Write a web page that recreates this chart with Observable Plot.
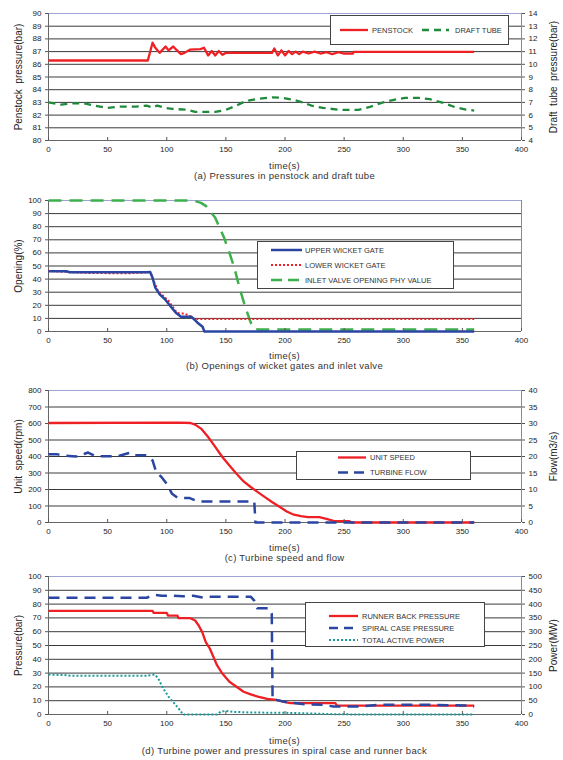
<!DOCTYPE html>
<html><head><meta charset="utf-8">
<script src="https://cdn.jsdelivr.net/npm/d3@7"></script>
<script src="https://cdn.jsdelivr.net/npm/@observablehq/plot@0.6"></script>
<style>
body{margin:0;background:#fff;font-family:"Liberation Sans",Arial,sans-serif;}
#root{position:relative;width:563px;height:760px;overflow:hidden;background:#fff;}
.panel{position:absolute;left:0;}
.cap{position:absolute;left:48px;width:473px;text-align:center;font-size:9.5px;line-height:10px;color:#333;white-space:pre;letter-spacing:0.3px;}
</style></head><body><div id="root"></div>
<script>
// ---------- data ----------
const timeTicks = [0, 50, 100, 150, 200, 250, 300, 350, 400];

// (a) pressures [time s, value]
const penstockTicks = [80, 81, 82, 83, 84, 85, 86, 87, 88, 89, 90];
const penstock = [[0,86.3],[84,86.3],[88,87.7],[90,87.35],[94,86.9],[99,87.4],[101.5,87.1],[105.5,87.4],[108,87.15],[112,86.8],[115,86.9],[119.5,87.15],[128.5,87.2],[131.5,87.3],[135,86.7],[138,87.05],[141,86.7],[144,87.05],[147,86.75],[150,86.9],[189,86.9],[191,87.25],[194,86.7],[197,87.1],[200,86.7],[203,87.05],[206,86.8],[209,87.0],[212,86.8],[215,87.0],[220,86.85],[225,87.0],[230,86.85],[235,86.95],[240,86.8],[245,86.95],[250,86.85],[257.5,86.85],[258,86.98],[360,86.98]];
const draftTube = [[0,7.0],[10.5,6.83],[21,6.93],[30,6.93],[39,6.75],[50,6.57],[60,6.67],[74,6.67],[83,6.75],[88,6.6],[92,6.75],[98.5,6.57],[104.5,6.49],[116.5,6.43],[124,6.25],[141,6.25],[150,6.41],[159,6.75],[166.5,7.1],[177,7.27],[189,7.4],[198.5,7.35],[207.5,7.19],[215,7.0],[222.5,6.75],[232,6.57],[247,6.41],[262,6.41],[271,6.62],[283,7.0],[292,7.2],[301.5,7.35],[313.5,7.35],[322.5,7.25],[335,6.93],[344,6.62],[353,6.43],[360,6.36]];
const draftTickOffset = 76; // right axis 4..14 against left 80..90

// (b) openings %
const openingTicks = [0, 10, 20, 30, 40, 50, 60, 70, 80, 90, 100];
const upperGate = [[0,46],[15,46],[18,45.2],[83,45.2],[86,45.4],[88,41],[90.3,33.5],[94,28.4],[98.5,24.6],[103,19.5],[107.5,14.5],[112,11.2],[121,11.2],[125.8,6.9],[130.3,3.6],[131.8,0],[360,0]];
const lowerGate = [[0,46.2],[20,45.2],[35,44.7],[65,44.4],[80,44.9],[86,45.4],[89,38.6],[92.5,31],[101.5,23.4],[107.5,15.7],[110.5,13.7],[115,13.7],[119.5,11.9],[122.5,9.9],[126,9.6],[360,9.6]];
const inletValve = [[0,100],[122.5,100],[129,98.2],[133.3,95.7],[141,86.8],[148.5,71.6],[153,60.2],[157.5,47.5],[161.5,33.5],[166.5,18.3],[171,6.9],[174,1.8],[178,1.5],[360,1.5]];

// (c) speed rpm / flow m3/s
const speedTicks = [0, 100, 200, 300, 400, 500, 600, 700, 800];
const flowPerRpm = 20; // right axis 0..40 against 0..800
const unitSpeed = [[0,603],[110,605],[120,603],[124,593],[129,569],[135,518],[141,458],[147,397],[153,346],[159,296],[165,249],[171,215],[177,184],[183,154],[189,124],[195,97],[201.5,67],[207.5,47],[213.5,38],[219.5,32],[229,32],[235,22],[241,10],[254.5,8],[256,0],[360,0]];
const turbineFlow = [[0,20.65],[7.5,20.65],[12,20.3],[20,20.1],[25.5,20.0],[30,20.75],[33.5,21.2],[39.5,20.1],[59,20.1],[66.5,20.9],[69.5,21.2],[72.5,20.4],[83,20.4],[88,18.8],[91,15.3],[95.5,13.8],[100,11.7],[104.5,8.7],[109,7.5],[119.5,7.4],[126,6.4],[174,6.4],[175,0],[360,0]];

// (d) pressures bar / power MW
const pressureTicks = [0, 10, 20, 30, 40, 50, 60, 70, 80, 90, 100];
const powerPerBar = 5; // right axis 0..500 against 0..100
const runnerBack = [[0,75.1],[88,75.1],[89,73.6],[100,73.6],[101,71.7],[109,71.7],[110,69.8],[119.5,69.8],[121,69.4],[124,68.1],[127,64.5],[130,59.7],[133,52.5],[136.5,47.7],[139.5,41.7],[142.5,35.7],[147,29.7],[153,23.7],[159,20.1],[165,16.5],[171,14.6],[177,13],[185,11.3],[192.5,10.6],[198.5,9.4],[204.5,8.2],[242.5,8.2],[244,6.4],[360,6.4]];
const spiralCase = [[0,84.6],[83,84.6],[89.5,86.7],[95.5,86.1],[104.5,86.1],[113.5,85.6],[122.5,86.1],[129,84.9],[135,85.4],[171,85.4],[174,82.5],[176.5,77],[186.5,77],[188.8,72.9],[189.5,10.6],[192.5,10.6],[201.5,8.9],[216.5,7.4],[232,7.0],[241,5.8],[262,5.8],[280,7.0],[322.5,7.0],[353,6.5],[360,5.8]];
const totalPower = [[0,145],[13.5,142.7],[19.5,140.3],[83,140.3],[89.5,145],[92.5,133],[97,94.7],[101.5,64.7],[107.5,34.8],[112,10.8],[113.5,0],[142.5,0],[145.5,9.6],[150,13.2],[156,9.6],[171,7.2],[201.5,6],[222.5,3.6],[241,1.2],[262,0],[360,0]];

// ---------- styles ----------
const RED = "#ee2024", DGREEN = "#1f8a3b", LGREEN = "#3cb04c", BLUE = "#2a45a2", TEAL = "#1b9a98";
const root = document.getElementById("root");

function makePanel(cfg) {
  const {top, mt, plotH, yDomain, yTicks, yLabel, rightFmt, rightLabel, lines} = cfg;
  const mb = 22;
  const marks = [
    Plot.gridY(yTicks.filter(v => v !== yDomain[0] && v !== yDomain[1]), {stroke: "#3a3a3a", strokeOpacity: 1, strokeWidth: 1}),
    Plot.ruleY([yDomain[1]], {stroke: "#9ea3d6", strokeWidth: 1.2}),
    Plot.ruleX([400], {stroke: "#8a8a8a"}),
    Plot.ruleX([0], {stroke: "#666"}),
    Plot.ruleY([yDomain[0]], {stroke: "#666"}),
    ...lines.map(s => Plot.line(s.data, {
      x: d => d[0], y: d => s.scale ? s.scale(d[1]) : d[1],
      stroke: s.color, strokeWidth: s.width, strokeDasharray: s.dash,
      curve: s.curve || "linear", strokeLinejoin: "round", strokeLinecap: "butt"
    })),
    Plot.axisX({ticks: timeTicks, tickSize: -3, tickFormat: () => "", label: null, stroke: "#555"}),
    Plot.axisX({ticks: timeTicks, tickSize: 0, tickPadding: 6, label: null, fontSize: 8}),
    Plot.axisY({ticks: yTicks, tickSize: 3, tickPadding: 4, label: null, fontSize: 8, stroke: "#555"}),
    Plot.axisY({ticks: [], label: yLabel, labelAnchor: "center", labelArrow: "none", labelOffset: 34, fontSize: 10})
  ];
  if (rightFmt) {
    marks.push(
      Plot.axisY({anchor: "right", ticks: yTicks, tickSize: 3, tickPadding: 4, tickFormat: rightFmt, label: null, fontSize: 8, stroke: "#555"}),
      Plot.axisY({anchor: "right", ticks: [], label: rightLabel, labelAnchor: "center", labelArrow: "none", labelOffset: 35, fontSize: 10})
    );
  }
  const svg = Plot.plot({
    width: 563, height: mt + plotH + mb,
    marginTop: mt, marginBottom: mb, marginLeft: 48, marginRight: 42,
    x: {domain: [0, 400]},
    y: {domain: yDomain},
    style: {fontFamily: "Liberation Sans, Arial, sans-serif", fontSize: "8px", color: "#222", background: "transparent", overflow: "visible"},
    marks
  });
  svg.classList.add("panel");
  svg.style.top = top + "px";
  root.appendChild(svg);
}

function caption(text, cy) {
  const d = document.createElement("div");
  d.className = "cap";
  d.style.top = (cy - 5) + "px";
  d.textContent = text;
  root.appendChild(d);
}

function legend(box, items) {
  const svg = d3.create("svg")
    .attr("width", box.w).attr("height", box.h)
    .style("position", "absolute").style("left", box.x + "px").style("top", box.y + "px");
  svg.append("rect").attr("x", 0.5).attr("y", 0.5).attr("width", box.w - 1).attr("height", box.h - 1)
    .attr("fill", "#fff").attr("stroke", "#444");
  for (const it of items) {
    svg.append("line")
      .attr("x1", it.x1 - box.x).attr("x2", it.x2 - box.x)
      .attr("y1", it.y - box.y).attr("y2", it.y - box.y)
      .attr("stroke", it.color).attr("stroke-width", it.width).attr("stroke-dasharray", it.dash || null);
    svg.append("text")
      .attr("x", it.tx - box.x).attr("y", it.y - box.y).attr("dy", "0.35em")
      .attr("font-family", "Liberation Sans, Arial, sans-serif").attr("font-size", 7.5)
      .attr("fill", "#333").text(it.label);
  }
  root.appendChild(svg.node());
}

// ---------- panel (a) ----------
makePanel({
  top: 0, mt: 13, plotH: 127, yDomain: [80, 90], yTicks: penstockTicks,
  yLabel: "Penstock\u00a0 pressure(bar)",
  rightFmt: d => d - draftTickOffset, rightLabel: "Draft\u00a0 tube\u00a0 pressure(bar)",
  lines: [
    {data: penstock, color: RED, width: 2.3},
    {data: draftTube, color: DGREEN, width: 2.3, dash: "7,5", scale: v => v + draftTickOffset}
  ]
});
caption("time(s)", 166);
caption("(a) Pressures in penstock and draft tube", 176);
legend({x: 330, y: 15, w: 179, h: 30}, [
  {x1: 340, x2: 368, y: 30, tx: 372, label: "PENSTOCK", color: RED, width: 2.3},
  {x1: 422, x2: 449, y: 30, tx: 455, label: "DRAFT TUBE", color: DGREEN, width: 2.3, dash: "7,5"}
]);

// ---------- panel (b) ----------
makePanel({
  top: 185, mt: 15, plotH: 131, yDomain: [0, 100], yTicks: openingTicks,
  yLabel: "Opening(%)",
  lines: [
    {data: inletValve, color: LGREEN, width: 2.5, dash: "13,8"},
    {data: lowerGate, color: RED, width: 2, dash: "2,2"},
    {data: upperGate, color: BLUE, width: 2.5}
  ]
});
caption("time(s)", 356);
caption("(b) Openings of wicket gates and inlet valve", 366);
legend({x: 257, y: 241, w: 197, h: 48}, [
  {x1: 271, x2: 302, y: 250, tx: 305, label: "UPPER WICKET GATE", color: BLUE, width: 2.5},
  {x1: 271, x2: 302, y: 265, tx: 305, label: "LOWER WICKET GATE", color: RED, width: 2, dash: "2,2"},
  {x1: 271, x2: 302, y: 280, tx: 305, label: "INLET VALVE OPENING PHY VALUE", color: LGREEN, width: 2.5, dash: "11,6"}
]);

// ---------- panel (c) ----------
makePanel({
  top: 375, mt: 15, plotH: 132, yDomain: [0, 800], yTicks: speedTicks,
  yLabel: "Unit\u00a0 speed(rpm)",
  rightFmt: d => d / flowPerRpm, rightLabel: "Flow(m3/s)",
  lines: [
    {data: unitSpeed, color: RED, width: 2.3},
    {data: turbineFlow, color: BLUE, width: 2.5, dash: "11,7", scale: v => v * flowPerRpm}
  ]
});
caption("time(s)", 548);
caption("(c) Turbine speed and flow", 558);
legend({x: 296, y: 451, w: 175, h: 29}, [
  {x1: 338, x2: 366, y: 457.5, tx: 370, label: "UNIT SPEED", color: RED, width: 2.3},
  {x1: 338, x2: 366, y: 472.5, tx: 370, label: "TURBINE FLOW", color: BLUE, width: 2.5, dash: "10,6"}
]);

// ---------- panel (d) ----------
makePanel({
  top: 561, mt: 15, plotH: 138, yDomain: [0, 100], yTicks: pressureTicks,
  yLabel: "Pressure(bar)",
  rightFmt: d => d * powerPerBar, rightLabel: "Power(MW)",
  lines: [
    {data: totalPower, color: TEAL, width: 2, dash: "2,2", scale: v => v / powerPerBar},
    {data: runnerBack, color: RED, width: 2.3},
    {data: spiralCase, color: BLUE, width: 2.5, dash: "11,7"}
  ]
});
caption("time(s)", 741);
caption("(d) Turbine power and pressures in spiral case and runner back", 751);
legend({x: 305, y: 602, w: 180, h: 45}, [
  {x1: 329, x2: 358, y: 616, tx: 362, label: "RUNNER BACK PRESSURE", color: RED, width: 2.3},
  {x1: 329, x2: 358, y: 628, tx: 362, label: "SPIRAL CASE PRESSURE", color: BLUE, width: 2.5, dash: "9,6"},
  {x1: 329, x2: 358, y: 640, tx: 362, label: "TOTAL ACTIVE POWER", color: TEAL, width: 2, dash: "2,2"}
]);
</script></body></html>
